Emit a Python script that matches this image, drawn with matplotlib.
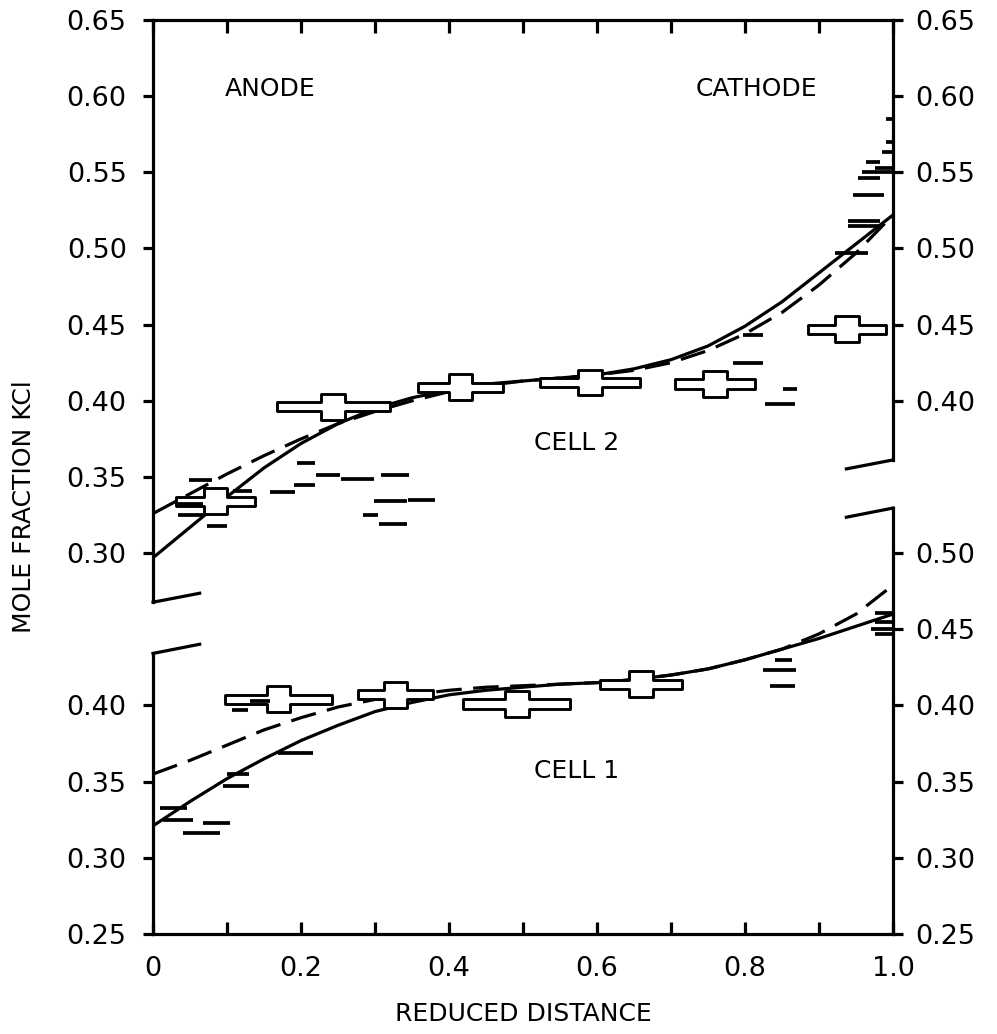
import numpy as np
import matplotlib
matplotlib.use("Agg")
import matplotlib.pyplot as plt
from matplotlib.patches import Polygon

# ---------------------------------------------------------------- data
# Reduced distance grid used for the model curves
x_model = [0.0, 0.05, 0.1, 0.15, 0.2, 0.25, 0.3, 0.35, 0.4, 0.45, 0.5,
           0.55, 0.6, 0.65, 0.7, 0.75, 0.8, 0.85, 0.9, 0.95, 1.0]

# Cell 2 (upper panel) model curves
cell2_solid = [0.297, 0.317, 0.337, 0.356, 0.372, 0.385, 0.395, 0.402, 0.407, 0.411, 0.413,
               0.415, 0.417, 0.421, 0.427, 0.436, 0.449, 0.465, 0.484, 0.503, 0.522]
cell2_dashed = [0.326, 0.339, 0.352, 0.364, 0.375, 0.385, 0.393, 0.400, 0.406, 0.410, 0.413,
                0.415, 0.417, 0.420, 0.425, 0.433, 0.444, 0.458, 0.476, 0.497, 0.522]

# Cell 1 (lower panel) model curves
cell1_solid = [0.321, 0.337, 0.352, 0.365, 0.377, 0.387, 0.396, 0.402, 0.407, 0.410, 0.412,
               0.414, 0.415, 0.417, 0.420, 0.424, 0.430, 0.437, 0.444, 0.452, 0.460]
cell1_dashed = [0.355, 0.364, 0.374, 0.384, 0.392, 0.399, 0.404, 0.407, 0.410, 0.412, 0.413,
                0.414, 0.415, 0.417, 0.420, 0.424, 0.430, 0.437, 0.447, 0.460, 0.479]

# Averaged samples: start, end of the slice and mean mole fraction
cell2_avg_lo = [0.031, 0.167, 0.358, 0.523, 0.705, 0.885]
cell2_avg_hi = [0.138, 0.320, 0.473, 0.658, 0.814, 0.990]
cell2_avg_y = [0.334, 0.396, 0.409, 0.412, 0.411, 0.447]

cell1_avg_lo = [0.097, 0.277, 0.419, 0.604]
cell1_avg_hi = [0.242, 0.378, 0.564, 0.715]
cell1_avg_y = [0.404, 0.407, 0.401, 0.414]

# Individual slice measurements
cell2_pt_lo = [0.195, 0.220, 0.254, 0.308, 0.190, 0.158, 0.108, 0.049, 0.299, 0.345,
               0.284, 0.305, 0.034, 0.073, 0.034,
               0.797, 0.784, 0.851, 0.827,
               0.990, 0.990, 0.985, 0.963, 0.958, 0.975, 0.953, 0.946, 0.939, 0.939, 0.922]
cell2_pt_hi = [0.219, 0.253, 0.299, 0.346, 0.219, 0.192, 0.134, 0.080, 0.343, 0.381,
               0.304, 0.343, 0.068, 0.100, 0.068,
               0.824, 0.824, 0.870, 0.868,
               1.000, 1.000, 1.000, 0.982, 1.000, 1.000, 0.982, 0.988, 0.982, 0.982, 0.966]
cell2_pt_y = [0.359, 0.351, 0.349, 0.351, 0.345, 0.340, 0.341, 0.348, 0.334, 0.335,
              0.325, 0.319, 0.325, 0.318, 0.332,
              0.443, 0.425, 0.408, 0.398,
              0.585, 0.570, 0.563, 0.557, 0.550, 0.553, 0.546, 0.535, 0.518, 0.515, 0.497]

cell1_pt_lo = [0.169, 0.100, 0.095, 0.010, 0.014, 0.068, 0.040, 0.107, 0.131,
               0.840, 0.824, 0.834, 0.975, 0.975, 0.970, 0.975]
cell1_pt_hi = [0.216, 0.130, 0.130, 0.046, 0.054, 0.104, 0.090, 0.128, 0.158,
               0.864, 0.869, 0.868, 1.000, 1.000, 1.000, 1.000]
cell1_pt_y = [0.369, 0.355, 0.347, 0.333, 0.325, 0.323, 0.316, 0.397, 0.403,
              0.430, 0.423, 0.413, 0.461, 0.455, 0.450, 0.447]

# Axis tick values for each panel
cell2_left_ticks = [0.30, 0.35, 0.40, 0.45, 0.50, 0.55, 0.60, 0.65]
cell2_right_ticks = [0.40, 0.45, 0.50, 0.55, 0.60, 0.65]
cell1_left_ticks = [0.25, 0.30, 0.35, 0.40]
cell1_right_ticks = [0.25, 0.30, 0.35, 0.40, 0.45, 0.50]
x_ticks = [0.0, 0.1, 0.2, 0.3, 0.4, 0.5, 0.6, 0.7, 0.8, 0.9, 1.0]
x_ticklabels = ["0", "", "0.2", "", "0.4", "", "0.6", "", "0.8", "", "1.0"]

# ---------------------------------------------------------------- layout
SHIFT = 0.20          # upper panel is drawn 0.20 higher on the shared scale
Y_MIN, Y_MAX = 0.25, 0.85
# slanted panel edges at the axis break (shared scale units)
UP_EDGE = (0.4678, 0.5612)   # lower edge of the Cell 2 panel at x=0, x=1
LO_EDGE = (0.4342, 0.5296)   # upper edge of the Cell 1 panel at x=0, x=1
STUB = 0.063

LW = 2.3
plt.rcParams["font.family"] = ["DejaVu Sans"]

fig = plt.figure(figsize=(9.97, 10.34), dpi=100)
ax = fig.add_axes([0.1535, 0.0967, 0.7422, 0.8840])
ax.set_xlim(0, 1)
ax.set_ylim(Y_MIN, Y_MAX)
for s in ax.spines.values():
    s.set_visible(False)


def edge(e, x):
    return e[0] + (e[1] - e[0]) * x


# frame with the broken vertical axes
frame = dict(color="black", lw=LW, clip_on=False, solid_capstyle="projecting", zorder=5)
ax.plot([0, 1], [Y_MAX, Y_MAX], **frame)
ax.plot([0, 1], [Y_MIN, Y_MIN], **frame)
ax.plot([0, 0], [Y_MAX, UP_EDGE[0]], **frame)
ax.plot([1, 1], [Y_MAX, UP_EDGE[1]], **frame)
ax.plot([0, 0], [Y_MIN, LO_EDGE[0]], **frame)
ax.plot([1, 1], [Y_MIN, LO_EDGE[1]], **frame)
for e in (UP_EDGE, LO_EDGE):
    ax.plot([0, STUB], [edge(e, 0), edge(e, STUB)], **frame)
    ax.plot([1 - STUB, 1], [edge(e, 1 - STUB), edge(e, 1)], **frame)

# clipping regions for the two panels
clip_up = Polygon([(0, Y_MAX), (1, Y_MAX), (1, UP_EDGE[1]), (0, UP_EDGE[0])],
                  closed=True, transform=ax.transData, facecolor="none", edgecolor="none")
clip_lo = Polygon([(0, Y_MIN), (1, Y_MIN), (1, LO_EDGE[1]), (0, LO_EDGE[0])],
                  closed=True, transform=ax.transData, facecolor="none", edgecolor="none")
ax.add_patch(clip_up)
ax.add_patch(clip_lo)

dash_style = dict(color="black", lw=2.3, dashes=(8, 3.6), dash_capstyle="butt",
                  dash_joinstyle="round")
solid_style = dict(color="black", lw=2.3, solid_joinstyle="round")

for ys, style in ((cell2_solid, solid_style), (cell2_dashed, dash_style)):
    ln, = ax.plot(x_model, np.array(ys) + SHIFT, zorder=2, **style)
    ln.set_clip_path(clip_up)
for ys, style in ((cell1_solid, solid_style), (cell1_dashed, dash_style)):
    ln, = ax.plot(x_model, ys, zorder=2, **style)
    ln.set_clip_path(clip_lo)

# plus-shaped symbols for averaged slices
HB, VW, VH = 0.0030, 0.0160, 0.0085


def plus_symbol(lo, hi, y):
    xc = 0.5 * (lo + hi)
    pts = [(lo, y - HB), (xc - VW, y - HB), (xc - VW, y - VH), (xc + VW, y - VH),
           (xc + VW, y - HB), (hi, y - HB), (hi, y + HB), (xc + VW, y + HB),
           (xc + VW, y + VH), (xc - VW, y + VH), (xc - VW, y + HB), (lo, y + HB)]
    ax.add_patch(Polygon(pts, closed=True, facecolor="white", edgecolor="black",
                         lw=2.1, joinstyle="round", zorder=3))


for lo, hi, y in zip(cell2_avg_lo, cell2_avg_hi, cell2_avg_y):
    plus_symbol(lo, hi, y + SHIFT)
for lo, hi, y in zip(cell1_avg_lo, cell1_avg_hi, cell1_avg_y):
    plus_symbol(lo, hi, y)

# individual slices as short horizontal bars
seg = dict(color="black", lw=2.7, solid_capstyle="butt", zorder=4)
for lo, hi, y in zip(cell2_pt_lo, cell2_pt_hi, cell2_pt_y):
    ax.plot([lo, hi], [y + SHIFT, y + SHIFT], **seg)
for lo, hi, y in zip(cell1_pt_lo, cell1_pt_hi, cell1_pt_y):
    ax.plot([lo, hi], [y, y], **seg)

# ticks
FS = 19.5
left_pos = list(cell1_left_ticks) + [v + SHIFT for v in cell2_left_ticks]
left_lab = [f"{v:.2f}" for v in cell1_left_ticks] + [f"{v:.2f}" for v in cell2_left_ticks]
right_pos = list(cell1_right_ticks) + [v + SHIFT for v in cell2_right_ticks]
right_lab = [f"{v:.2f}" for v in cell1_right_ticks] + [f"{v:.2f}" for v in cell2_right_ticks]

ax.set_yticks(left_pos)
ax.set_yticklabels(left_lab, fontsize=FS)
ax.tick_params(axis="y", direction="out", length=7, width=LW, pad=12)

axr = ax.twinx()
axr.set_ylim(Y_MIN, Y_MAX)
for s in axr.spines.values():
    s.set_visible(False)
axr.set_yticks(right_pos)
axr.set_yticklabels(right_lab, fontsize=FS)
axr.tick_params(axis="y", direction="out", length=7, width=LW, pad=9)

ax.set_xticks(x_ticks)
ax.set_xticklabels(x_ticklabels, fontsize=FS)
ax.tick_params(axis="x", direction="in", length=9, width=LW, top=True, bottom=True, pad=16)

# annotations
TS = 18
ax.text(0.158, 0.605 + SHIFT, "ANODE", fontsize=TS, ha="center", va="center")
ax.text(0.815, 0.605 + SHIFT, "CATHODE", fontsize=TS, ha="center", va="center")
ax.text(0.573, 0.372 + SHIFT, "CELL 2", fontsize=TS, ha="center", va="center")
ax.text(0.573, 0.357, "CELL 1", fontsize=TS, ha="center", va="center")

ax.set_xlabel("REDUCED DISTANCE", fontsize=TS, labelpad=14)
fig.text(0.024, 0.51, "MOLE FRACTION KCl", rotation=90, fontsize=TS,
         ha="center", va="center")

fig.savefig("out.png", dpi=100)
